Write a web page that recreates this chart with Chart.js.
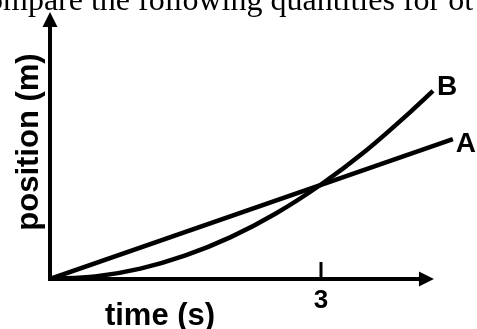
<!DOCTYPE html>
<html>
<head>
<meta charset="utf-8">
<script src="https://cdn.jsdelivr.net/npm/chart.js@4/dist/chart.umd.min.js"></script>
<style>
  html, body { margin: 0; padding: 0; background: #fff; }
  #wrap { width: 477px; height: 329px; position: relative; }
</style>
</head>
<body>
<div id="wrap"><canvas id="chart" width="477" height="329"></canvas></div>
<script>
// values (time in s, position in m)
const timeA = [0, 4.46];
const posA = [0, 4.44];
const timeB = [0, 0.5, 1, 1.5, 2, 2.5, 3, 3.5, 4, 4.24];
const posB = [0, 0.08, 0.33, 0.75, 1.33, 2.08, 3.0, 4.08, 5.33, 5.97];
const xTicks = [3];
const xTickLabels = ['3'];
const seriesNames = ['A', 'B'];
const xAxisTitle = 'time (s)';
const yAxisTitle = 'position (m)';
const headerText = 'ompare the following quantities for ot';
const xAxisEnd = 4.25;
const yAxisEnd = 8.48;

const toPoints = (xs, ys) => xs.map((x, i) => ({ x: x, y: ys[i] }));

const sketchPlugin = {
  id: 'sketch',
  beforeDatasetsDraw(chart) {
    const ctx = chart.ctx;
    const sx = chart.scales.x, sy = chart.scales.y;
    const x0 = sx.getPixelForValue(0), y0 = sy.getPixelForValue(0);
    const xEnd = sx.getPixelForValue(xAxisEnd);
    const yEnd = sy.getPixelForValue(yAxisEnd);

    ctx.save();
    ctx.strokeStyle = '#000';
    ctx.fillStyle = '#000';
    ctx.lineWidth = 4;
    ctx.lineCap = 'butt';

    // y axis + arrow
    ctx.beginPath();
    ctx.moveTo(x0, y0 + 2);
    ctx.lineTo(x0, yEnd + 12);
    ctx.stroke();
    ctx.beginPath();
    ctx.moveTo(x0, yEnd);
    ctx.lineTo(x0 - 7.5, yEnd + 15);
    ctx.lineTo(x0 + 7.5, yEnd + 15);
    ctx.closePath();
    ctx.fill();

    // x axis + arrow
    ctx.beginPath();
    ctx.moveTo(x0 - 2, y0);
    ctx.lineTo(xEnd - 12, y0);
    ctx.stroke();
    ctx.beginPath();
    ctx.moveTo(xEnd, y0);
    ctx.lineTo(xEnd - 15, y0 - 7.5);
    ctx.lineTo(xEnd - 15, y0 + 7.5);
    ctx.closePath();
    ctx.fill();

    // ticks
    ctx.lineWidth = 3;
    xTicks.forEach(t => {
      const px = sx.getPixelForValue(t);
      ctx.beginPath();
      ctx.moveTo(px, y0);
      ctx.lineTo(px, y0 - 17);
      ctx.stroke();
    });
    ctx.restore();
  },
  afterDraw(chart) {
    const ctx = chart.ctx;
    const sx = chart.scales.x, sy = chart.scales.y;
    const y0 = sy.getPixelForValue(0);

    ctx.save();
    ctx.fillStyle = '#000';

    // header fragment
    ctx.font = '32px "Liberation Serif", "Times New Roman", serif';
    ctx.textAlign = 'left';
    ctx.textBaseline = 'alphabetic';
    ctx.fillText(headerText, -13, 10);

    // tick labels
    ctx.font = 'bold 26px "Liberation Sans", Arial, sans-serif';
    ctx.textAlign = 'center';
    ctx.textBaseline = 'middle';
    xTicks.forEach((t, i) => {
      ctx.fillText(xTickLabels[i], sx.getPixelForValue(t), y0 + 22);
    });

    // axis titles
    ctx.font = 'bold 31px "Liberation Sans", Arial, sans-serif';
    ctx.fillText(xAxisTitle, 160, 316);
    ctx.save();
    ctx.translate(29, 142);
    ctx.rotate(-Math.PI / 2);
    ctx.fillText(yAxisTitle, 0, 0);
    ctx.restore();

    // series labels at line ends
    ctx.font = 'bold 28px "Liberation Sans", Arial, sans-serif';
    const lastA = timeA.length - 1, lastB = timeB.length - 1;
    ctx.fillText(seriesNames[0], sx.getPixelForValue(timeA[lastA]) + 13, sy.getPixelForValue(posA[lastA]) + 5);
    ctx.fillText(seriesNames[1], sx.getPixelForValue(timeB[lastB]) + 14, sy.getPixelForValue(posB[lastB]) - 4);
    ctx.restore();
  }
};

new Chart(document.getElementById('chart'), {
  type: 'line',
  data: {
    datasets: [{
      label: seriesNames[0],
      data: toPoints(timeA, posA),
      borderColor: '#000',
      borderWidth: 4.5,
      borderCapStyle: 'butt',
      pointRadius: 0,
      fill: false
    }, {
      label: seriesNames[1],
      data: toPoints(timeB, posB),
      borderColor: '#000',
      borderWidth: 4.5,
      borderCapStyle: 'butt',
      pointRadius: 0,
      cubicInterpolationMode: 'monotone',
      fill: false
    }]
  },
  options: {
    responsive: false,
    animation: false,
    devicePixelRatio: 1,
    layout: { padding: { left: 50, right: 0, top: 0, bottom: 50 } },
    plugins: {
      legend: { display: false },
      tooltip: { enabled: false },
      title: { display: false }
    },
    scales: {
      x: { type: 'linear', min: 0, max: 4.727, display: false },
      y: { type: 'linear', min: 0, max: 8.857, display: false }
    }
  },
  plugins: [sketchPlugin]
});
</script>
</body>
</html>
